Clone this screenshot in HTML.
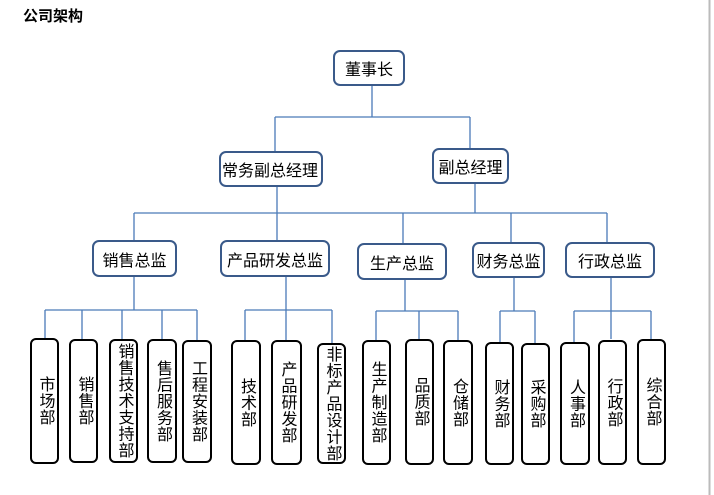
<!DOCTYPE html>
<html><head><meta charset="utf-8"><style>
body{margin:0;width:714px;height:495px;background:#fff;position:relative;overflow:hidden;font-family:"Liberation Sans","Noto Sans CJK SC",sans-serif;}
.t{position:absolute;left:23px;top:5px;font-size:15px;font-weight:bold;color:#000}
.b{position:absolute;box-sizing:border-box;border:2.5px solid #3a5a8a;border-radius:7px;background:#fff;display:flex;align-items:center;justify-content:center;font-size:16px;color:#000;white-space:nowrap}
.v{position:absolute;box-sizing:border-box;border:2.5px solid #000;border-radius:6px;background:#fff;display:flex;align-items:center;justify-content:center;font-size:16px;line-height:16px;color:#000;}
.v span{writing-mode:vertical-rl;letter-spacing:0.5px}
svg{position:absolute;left:0;top:0}
</style></head><body>
<div class="t">公司架构</div>
<svg width="714" height="495">
<g stroke="#4a7ab8" stroke-width="1.3" fill="none">
<path d="M372 86V117M275 117H470M275 117V151M470 117V148"/>
<path d="M277 187V213M475 184V213M134 213H607M134 213V240M277 213V240M403 213V243M511 213V242M607 213V242"/>
<path d="M134 277V310M45 310H197M45 310V339M82 310V339M122 310V339M162 310V339M197 310V340"/>
<path d="M286 277V340M245 310H332M245 310V340M332 310V343"/>
<path d="M405 280V311M376 311H458M376 311V340M419 311V339M458 311V340"/>
<path d="M514 278V311M500 311H535M500 311V342M535 311V343"/>
<path d="M611 278V339M574 311H651M574 311V342M651 311V339"/>
</g>
<line x1="709.5" y1="0" x2="709.5" y2="495" stroke="#bbb" stroke-width="2"/>
</svg>
<div class="b" style="left:333px;top:50px;width:72px;height:36px">董事长</div>
<div class="b" style="left:219px;top:151px;width:104px;height:36px;justify-content:flex-start;padding-left:1px">常务副总经理</div>
<div class="b" style="left:432px;top:148px;width:77px;height:36px">副总经理</div>
<div class="b" style="left:92px;top:240px;width:85px;height:37px">销售总监</div>
<div class="b" style="left:220px;top:240px;width:110px;height:37px">产品研发总监</div>
<div class="b" style="left:357px;top:243px;width:90px;height:37px">生产总监</div>
<div class="b" style="left:472px;top:242px;width:73px;height:36px">财务总监</div>
<div class="b" style="left:565px;top:242px;width:90px;height:36px">行政总监</div>

<div class="v" style="left:30px;top:338px;width:29px;height:126px"><span>市场部</span></div>
<div class="v" style="left:69px;top:339px;width:29px;height:124px"><span>销售部</span></div>
<div class="v" style="left:109px;top:339px;width:29px;height:124px"><span>销售技术支持部</span></div>
<div class="v" style="left:147px;top:339px;width:30px;height:124px"><span>售后服务部</span></div>
<div class="v" style="left:182px;top:340px;width:30px;height:123px"><span>工程安装部</span></div>
<div class="v" style="left:231px;top:340px;width:30px;height:125px"><span>技术部</span></div>
<div class="v" style="left:271px;top:340px;width:31px;height:125px"><span>产品研发部</span></div>
<div class="v" style="left:317px;top:343px;width:29px;height:121px"><span>非标产品设计部</span></div>
<div class="v" style="left:362px;top:340px;width:29px;height:125px"><span>生产制造部</span></div>
<div class="v" style="left:405px;top:339px;width:29px;height:126px"><span>品质部</span></div>
<div class="v" style="left:443px;top:340px;width:30px;height:125px"><span>仓储部</span></div>
<div class="v" style="left:485px;top:342px;width:29px;height:123px"><span>财务部</span></div>
<div class="v" style="left:521px;top:343px;width:29px;height:122px"><span>采购部</span></div>
<div class="v" style="left:560px;top:342px;width:30px;height:123px"><span>人事部</span></div>
<div class="v" style="left:598px;top:340px;width:29px;height:125px"><span>行政部</span></div>
<div class="v" style="left:637px;top:339px;width:29px;height:126px"><span>综合部</span></div>
</body></html>
